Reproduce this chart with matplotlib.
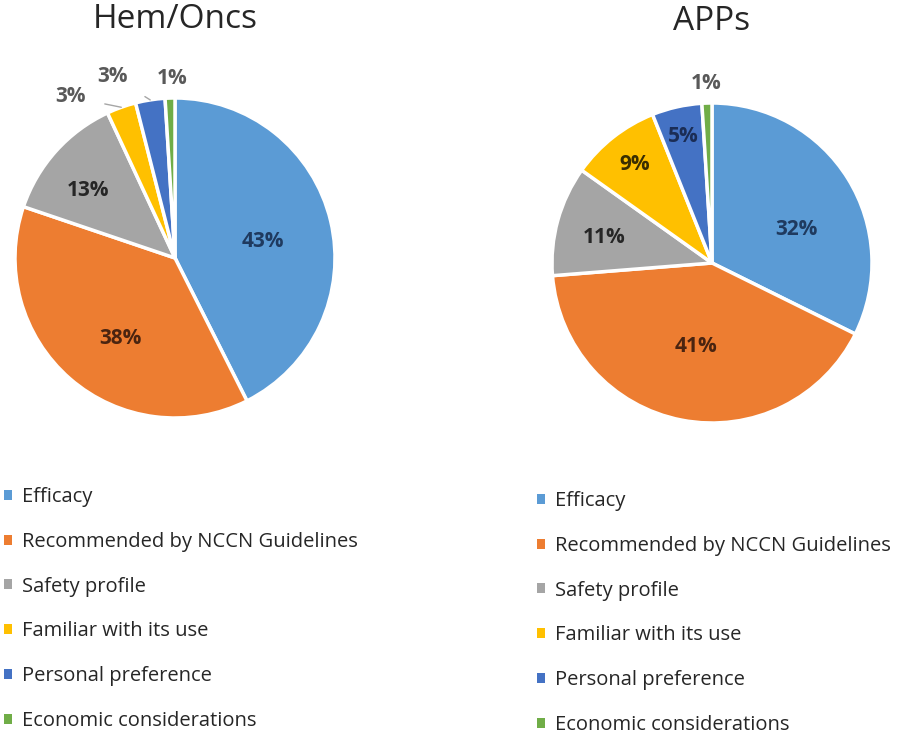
import numpy as np
import matplotlib.pyplot as plt
from matplotlib.patches import Patch

# Data
categories = ['Efficacy', 'Recommended by NCCN Guidelines', 'Safety profile',
              'Familiar with its use', 'Personal preference', 'Economic considerations']
hem_oncs = [43, 38, 13, 3, 3, 1]
apps = [32, 41, 11, 9, 5, 1]
titles = ['Hem/Oncs', 'APPs']

colors = ['#5B9BD5', '#ED7D31', '#A5A5A5', '#FFC000', '#4472C4', '#70AD47']
label_colors = ['#1F3A5F', '#4A2410', '#262626', '#3A2E00', '#1B2D55', '#595959']

plt.rcParams['font.family'] = ['Open Sans', 'DejaVu Sans']

W, H = 900, 734
fig = plt.figure(figsize=(W / 100, H / 100), dpi=100)


def pie_axes(cx, cy, r, pad=1.3):
    # axes box in figure fractions so that radius 1 == r pixels
    return fig.add_axes([(cx - pad * r) / W, 1 - (cy + pad * r) / H,
                         2 * pad * r / W, 2 * pad * r / H])


def draw_pie(ax, values, radii, outside, offsets):
    wedges, _ = ax.pie(values, colors=colors, startangle=90, counterclock=False,
                       wedgeprops=dict(edgecolor='white', linewidth=2.5))
    for i, w in enumerate(wedges):
        mid = np.deg2rad((w.theta1 + w.theta2) / 2)
        ang = mid + np.deg2rad(offsets[i])
        x, y = radii[i] * np.cos(ang), radii[i] * np.sin(ang)
        txt = f'{values[i]}%'
        if outside[i]:
            ax.annotate(txt, xy=(1.0 * np.cos(mid), 1.0 * np.sin(mid)), xytext=(x, y),
                        ha='center', va='center', fontsize=15, fontweight='bold',
                        color='#595959',
                        arrowprops=dict(arrowstyle='-', color='#A6A6A6', lw=1,
                                        shrinkA=12, shrinkB=0))
        else:
            ax.text(x, y, txt, ha='center', va='center', fontsize=15,
                    fontweight='bold', color=label_colors[i])
    ax.set_xlim(-1.3, 1.3)
    ax.set_ylim(-1.3, 1.3)
    ax.set_aspect('equal')
    ax.axis('off')


ax1 = pie_axes(175, 258, 160)
draw_pie(ax1, hem_oncs, [0.56, 0.61, 0.69, 1.2, 1.2, 1.12],
         [False, False, False, True, True, False], [-3, 7, 4, 13.4, 10, -1])
ax2 = pie_axes(712, 263, 160)
draw_pie(ax2, apps, [0.57, 0.53, 0.69, 0.78, 0.81, 1.12],
         [False, False, False, False, False, False], [-10, 0, 2, 0, 0, 0])

fig.text(175 / W, 1 - 19 / H, titles[0], ha='center', va='center', fontsize=24, color='#262626')
fig.text(712 / W, 1 - 21 / H, titles[1], ha='center', va='center', fontsize=24, color='#262626')

handles = [Patch(facecolor=c, edgecolor='none') for c in colors]
for x0, y0 in [(0 / W, 1 - 483 / H), (533 / W, 1 - 487 / H)]:
    fig.legend(handles, categories, loc='upper left', bbox_to_anchor=(x0, y0),
               frameon=False, fontsize=14.5, labelcolor='#262626',
               handlelength=0.4, handleheight=0.4, handletextpad=0.5,
               labelspacing=1.23, borderpad=0.2, borderaxespad=0)

fig.savefig('out.png', dpi=100, facecolor='white')
